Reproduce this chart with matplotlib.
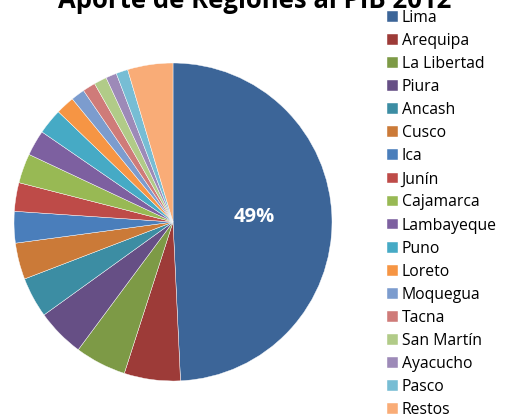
import matplotlib
matplotlib.use("Agg")
import matplotlib.pyplot as plt

plt.rcParams['font.family'] = ['Open Sans', 'DejaVu Sans']

title = "Aporte de Regiones al PIB 2012"
regions = ["Lima", "Arequipa", "La Libertad", "Piura", "Ancash", "Cusco", "Ica",
           "Junín", "Cajamarca", "Lambayeque", "Puno", "Loreto", "Moquegua",
           "Tacna", "San Martín", "Ayacucho", "Pasco", "Restos"]
shares = [49.2, 5.7, 5.2, 4.9, 4.1, 3.7, 3.2, 2.9, 3.0, 2.6, 2.6, 1.9, 1.4,
          1.3, 1.3, 1.1, 1.2, 4.6]
colors = ["#3C6598", "#9D3B38", "#7D9A46", "#664F85", "#3C8DA3", "#CB7A38",
          "#4A7EBB", "#BE4B48", "#98B954", "#7D60A0", "#46AAC5", "#F69544",
          "#7C9CCE", "#CF7B79", "#B1CB88", "#9D8AB8", "#77BDD4", "#F9AC77"]

W, H = 505, 419
fig = plt.figure(figsize=(W / 100, H / 100), dpi=100)

cx, cy, r = 173, 222, 159
ax = fig.add_axes([(cx - r) / W, (H - cy - r) / H, 2 * r / W, 2 * r / H])
wedges, _ = ax.pie(shares, colors=colors, startangle=90, counterclock=False,
                   radius=1, wedgeprops=dict(edgecolor='white', linewidth=0.3))
ax.set_xlim(-1, 1)
ax.set_ylim(-1, 1)
ax.set_aspect('equal')
ax.axis('off')

ax.text(0.51, 0.03, f"{round(shares[0])}%", color='white', fontsize=14.5,
        fontweight='bold', ha='center', va='center')

fig.text(0.505, 1 - 8 / H, title, fontsize=18.5, fontweight='bold',
         ha='center', va='baseline', color='black')

fig.legend(wedges, regions, loc='upper left', bbox_to_anchor=(387 / W, 1 - 10 / H),
           frameon=False, fontsize=11.3, handlelength=0.68, handleheight=0.68,
           handletextpad=0.25, labelspacing=0.45, borderaxespad=0, borderpad=0)

fig.savefig("out.png", dpi=100)
